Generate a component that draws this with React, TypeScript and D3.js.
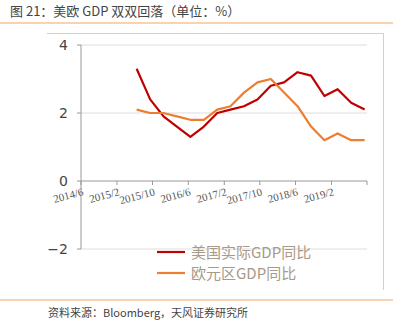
import React from "react";
import * as d3 from "d3";

const quarters = [
  "2015-06-15", "2015-09-15", "2015-12-15", "2016-03-15", "2016-06-15", "2016-09-15",
  "2016-12-15", "2017-03-15", "2017-06-15", "2017-09-15", "2017-12-15", "2018-03-15",
  "2018-06-15", "2018-09-15", "2018-12-15", "2019-03-15", "2019-06-15", "2019-09-15",
];
const usGdp = [3.3, 2.4, 1.9, 1.6, 1.3, 1.6, 2.0, 2.1, 2.2, 2.4, 2.8, 2.9, 3.2, 3.1, 2.5, 2.7, 2.3, 2.1];
const euGdp = [2.1, 2.0, 2.0, 1.9, 1.8, 1.8, 2.1, 2.2, 2.6, 2.9, 3.0, 2.6, 2.2, 1.6, 1.2, 1.4, 1.2, 1.2];
const xTickLabels = ["2014/6", "2015/2", "2015/10", "2016/6", "2017/2", "2017/10", "2018/6", "2019/2"];
const xTickDates = ["2014-06-01", "2015-02-01", "2015-10-01", "2016-06-01", "2017-02-01", "2017-10-01", "2018-06-01", "2019-02-01", "2019-10-01"];
const yTicks = [-2, 0, 2, 4];
const seriesNames = ["美国实际GDP同比", "欧元区GDP同比"];
const seriesColors = ["#c00000", "#ed7d31"];

const parse = d3.timeParse("%Y-%m-%d");

export default function App() {
  const W = 407, H = 325;
  const x = d3.scaleTime()
    .domain([parse("2014-06-01")!, parse("2019-10-01")!])
    .range([81, 367]);
  const y = d3.scaleLinear().domain([-2, 4]).range([249, 45]);
  const line = d3.line<[Date, number]>().x(d => x(d[0])).y(d => y(d[1]));
  const dates = quarters.map(q => parse(q)!);
  const series = [usGdp, euGdp];
  const cjk = '"Noto Sans CJK SC", "Noto Sans", sans-serif';
  const serif = '"Liberation Serif", "DejaVu Serif", serif';

  return (
    <svg width={W} height={H} style={{ position: "absolute", left: 0, top: 0 }}>
      <rect x={0} y={0} width={W} height={H} fill="#fff" />
      <text x={10} y={16} fontSize={13} fill="#444" fontFamily={cjk}>图 21：美欧 GDP 双双回落（单位：%）</text>
      <line x1={0} x2={393} y1={23} y2={23} stroke="#f3a563" strokeWidth={1.2} />
      {/* frame */}
      <path d="M47,33.5 H383.5 V290" fill="none" stroke="#d0d0d0" strokeWidth={1} />
      {/* gridlines */}
      {yTicks.filter(t => t !== 0).map(t => (
        <line key={t} x1={81} x2={367} y1={y(t)} y2={y(t)} stroke={t === 4 ? "#eeeeee" : "#dddddd"} strokeWidth={t === 4 ? 2 : 1} />
      ))}
      {/* y axis */}
      <line x1={81} x2={81} y1={y(4)} y2={y(-2)} stroke="#999" strokeWidth={1} />
      {yTicks.map(t => (
        <g key={t}>
          <line x1={77} x2={81} y1={y(t)} y2={y(t)} stroke="#999" />
          <text x={68} y={y(t) + 5} fontSize={14} textAnchor="end" fill="#444" fontFamily='"DejaVu Sans", sans-serif'>{t < 0 ? "\u2212" + Math.abs(t) : t}</text>
        </g>
      ))}
      {/* x axis */}
      <line x1={81} x2={367} y1={y(0)} y2={y(0)} stroke="#999" />
      {xTickDates.map((d, i) => {
        const xx = x(parse(d)!);
        return <line key={i} x1={xx} x2={xx} y1={y(0)} y2={y(0) + 4} stroke="#999" />;
      })}
      {xTickLabels.map((l, i) => {
        const xx = x(parse(xTickDates[i])!);
        return (
          <text key={l} transform={`translate(${xx + 3},${y(0) + 14}) rotate(-15)`} textAnchor="end" fontSize={11} fill="#555" fontFamily={serif}>{l}</text>
        );
      })}
      {/* lines */}
      {series.map((s, i) => (
        <path key={i} d={line(dates.map((d, j) => [d, s[j]] as [Date, number]))!} fill="none" stroke={seriesColors[i]} strokeWidth={2.2} strokeLinejoin="round" />
      ))}
      {/* legend */}
      {seriesNames.map((n, i) => (
        <g key={n}>
          <line x1={157} x2={185} y1={252 + i * 21} y2={252 + i * 21} stroke={seriesColors[i]} strokeWidth={2.2} />
          <text x={191} y={257.5 + i * 21} fontSize={15} fill="#a89a88" fontFamily={cjk}>{n}</text>
        </g>
      ))}
      <line x1={0} x2={393} y1={300} y2={300} stroke="#f3a563" strokeWidth={1.2} />
      <text x={48} y={317} fontSize={11} fill="#444" fontFamily={cjk}>资料来源：Bloomberg，天风证券研究所</text>
    </svg>
  );
}
